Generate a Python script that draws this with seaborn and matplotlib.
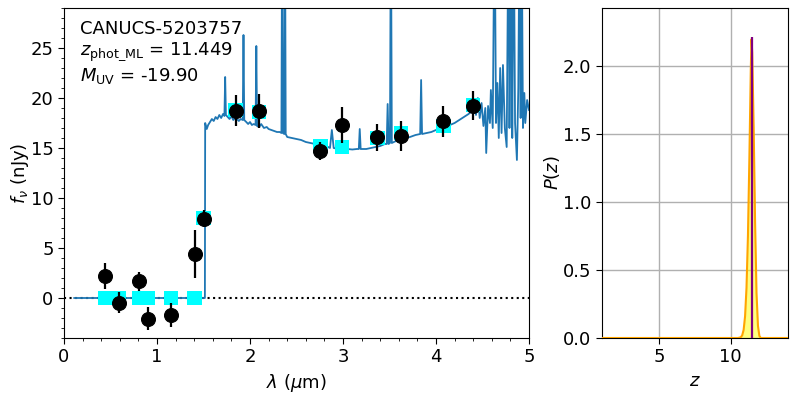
import numpy as np
import pandas as pd
import matplotlib
matplotlib.use("Agg")
import matplotlib.pyplot as plt
import seaborn as sns
from matplotlib.ticker import MultipleLocator

# ---------------- data ----------------
# photometry (observed)
phot_wave = [0.437, 0.593, 0.804, 0.904, 1.152, 1.404, 1.500, 1.845, 2.097,
             2.758, 2.988, 3.370, 3.620, 4.080, 4.400]
phot_flux = [2.25, -0.49, 1.67, -2.09, -1.70, 4.38, 7.95, 18.72, 18.69,
             14.75, 17.30, 16.07, 16.16, 17.70, 19.25]
phot_err = [1.30, 1.05, 0.97, 1.15, 1.18, 2.40, 0.85, 1.55, 1.70,
            0.90, 1.80, 1.35, 1.50, 1.55, 1.45]
# model photometry
model_flux = [0.0, 0.0, 0.0, 0.0, 0.0, 0.0, 8.0, 18.8, 18.6,
              15.2, 15.1, 16.0, 16.5, 17.2, 19.3]

# model spectrum
spec_wave = [0.11, 1.515, 1.518, 1.535, 1.55, 1.57, 1.59, 1.61, 1.63, 1.65, 1.67, 1.69,
             1.71, 1.725, 1.733, 1.741, 1.76, 1.78, 1.80, 1.82, 1.84, 1.86, 1.88, 1.90,
             1.922, 1.930, 1.938, 1.96, 1.98, 2.00, 2.02, 2.04, 2.060, 2.068, 2.076,
             2.10, 2.12, 2.15, 2.18, 2.20, 2.23, 2.26, 2.29, 2.32, 2.338, 2.346, 2.354,
             2.368, 2.376, 2.384, 2.40, 2.45, 2.50, 2.55, 2.60, 2.65, 2.70, 2.75, 2.80,
             2.84, 2.86, 2.88, 2.90, 2.95, 3.00, 3.05, 3.10, 3.15, 3.17, 3.18, 3.19,
             3.25, 3.30, 3.35, 3.40, 3.45, 3.47, 3.48, 3.49, 3.505, 3.515, 3.525, 3.57,
             3.62, 3.67, 3.72, 3.78, 3.83, 3.84, 3.85, 3.90, 3.95, 4.00, 4.05, 4.10,
             4.15, 4.20, 4.25, 4.30, 4.35, 4.40, 4.42, 4.43, 4.45, 4.47, 4.49, 4.51,
             4.53, 4.54, 4.56, 4.58, 4.59, 4.61, 4.63, 4.645, 4.66, 4.675, 4.69, 4.705,
             4.72, 4.74, 4.76, 4.78, 4.79, 4.81, 4.82, 4.835, 4.85, 4.87, 4.885, 4.90,
             4.91, 4.92, 4.935, 4.95, 4.96, 4.98, 5.00]
spec_flux = [0.0, 0.0, 17.5, 16.9, 17.3, 17.6, 17.9, 17.7, 18.1, 17.9, 18.3, 18.0,
             18.4, 18.2, 22.1, 18.3, 18.1, 17.9, 18.2, 17.8, 18.0, 17.9, 17.7, 17.9,
             17.8, 26.3, 17.8, 17.6, 17.4, 17.6, 17.3, 17.4, 17.3, 25.2, 17.2,
             17.1, 17.4, 17.0, 17.1, 16.9, 16.8, 16.7, 16.6, 16.6, 16.5, 40.0, 16.5,
             16.4, 40.0, 16.4, 16.1, 16.0, 15.9, 15.8, 15.6, 15.5, 15.4, 15.3, 15.2,
             15.1, 15.0, 16.8, 15.0, 14.9, 14.9, 14.9, 14.85, 14.9, 14.9, 16.9, 14.9,
             14.9, 15.0, 15.1, 15.2, 15.4, 15.4, 19.4, 15.4, 15.5, 40.0, 15.5, 15.7,
             15.9, 16.0, 16.1, 16.3, 16.4, 21.8, 16.4, 16.5, 16.6, 16.8, 17.0, 17.2,
             17.3, 17.5, 17.8, 18.1, 18.4, 18.8, 19.8, 18.3, 20.0, 18.0, 19.5, 17.2,
             19.0, 14.5, 19.2, 17.5, 20.8, 17.0, 40.0, 17.5, 21.5, 16.0, 23.0, 16.5,
             23.3, 17.0, 15.1, 40.0, 17.0, 40.0, 16.0, 40.0, 17.5, 13.8, 21.0, 40.0,
             18.0, 40.0, 17.0, 20.5, 17.5, 19.8, 18.8]

# P(z)
pz_z = [1.0, 10.5, 10.7, 10.8, 10.9, 11.0, 11.1, 11.2, 11.3, 11.4, 11.45, 11.5,
        11.6, 11.7, 11.8, 11.9, 12.0, 12.1, 14.0]
pz_p = [0.0, 0.0, 0.005, 0.02, 0.06, 0.16, 0.37, 0.75, 1.32, 1.98, 2.2, 2.1,
        1.55, 0.85, 0.33, 0.09, 0.015, 0.0, 0.0]
z_ml = 11.449
pz_max = 2.22

obj_name = "CANUCS-5203757"
muv = "-19.90"

# ---------------- figure ----------------
W, H = 797, 399
fig = plt.figure(figsize=(W / 100, H / 100), dpi=100)
ax = fig.add_axes([64 / W, 1 - 338 / H, 465 / W, 330 / H])
ax2 = fig.add_axes([602 / W, 1 - 338 / H, 186 / W, 330 / H])

fs = 13

spec_df = pd.DataFrame({"wave": spec_wave, "flux": spec_flux})
phot_df = pd.DataFrame({"wave": phot_wave, "flux": phot_flux, "err": phot_err,
                        "model": model_flux})

ax.axhline(0, color="black", ls=":", lw=1.5, zorder=1)
sns.lineplot(data=spec_df, x="wave", y="flux", ax=ax, color="#1f77b4", lw=1.3,
             sort=False, estimator=None, zorder=2)
sns.scatterplot(data=phot_df, x="wave", y="model", ax=ax, marker="s", s=105,
                color="cyan", edgecolor="none", zorder=3)
ax.errorbar(phot_df["wave"], phot_df["flux"], yerr=phot_df["err"], fmt="none",
            ecolor="black", elinewidth=1.6, zorder=4)
sns.scatterplot(data=phot_df, x="wave", y="flux", ax=ax, marker="o", s=100,
                color="black", edgecolor="black", zorder=5)

ax.set_xlim(0, 5)
ax.set_ylim(-4, 29)
ax.xaxis.set_major_locator(MultipleLocator(1))
ax.xaxis.set_minor_locator(MultipleLocator(0.2))
ax.yaxis.set_major_locator(MultipleLocator(5))
ax.yaxis.set_minor_locator(MultipleLocator(1))
ax.tick_params(which="major", labelsize=fs, length=4)
ax.tick_params(which="minor", length=2)
ax.set_xlabel(r"$\lambda$ ($\mu$m)", fontsize=fs)
ax.set_ylabel(r"$f_\nu$ (nJy)", fontsize=fs)
ax.yaxis.set_label_coords(-0.072, 0.5)

tfs = 13
ax.text(0.034, 0.921, obj_name, transform=ax.transAxes, fontsize=tfs, va="baseline")
ax.text(0.034, 0.858, r"$z_\mathrm{phot\_ML}$ = " + f"{z_ml:.3f}", transform=ax.transAxes,
        fontsize=tfs, va="baseline")
ax.text(0.034, 0.779, r"$M_\mathrm{UV}$ = " + muv, transform=ax.transAxes,
        fontsize=tfs, va="baseline")

# P(z) panel
pz_df = pd.DataFrame({"z": pz_z, "p": pz_p})
ax2.grid(True, color="#b0b0b0", lw=1, zorder=0)
ax2.set_axisbelow(True)
ax2.fill_between(pz_df["z"], 0, pz_df["p"], color="yellow", alpha=0.5, lw=0, zorder=2)
sns.lineplot(data=pz_df, x="z", y="p", ax=ax2, color="orange", lw=1.5,
             sort=False, estimator=None, zorder=3)
ax2.vlines(z_ml, 0, pz_max, color="purple", lw=1.6, zorder=4)
ax2.set_xlim(1, 14)
ax2.set_ylim(0, 2.43)
ax2.xaxis.set_major_locator(MultipleLocator(5))
ax2.yaxis.set_major_locator(MultipleLocator(0.5))
ax2.tick_params(labelsize=fs, length=4)
ax2.set_xlabel(r"$z$", fontsize=fs)
ax2.set_ylabel(r"$P(z)$", fontsize=fs)
ax2.yaxis.set_label_coords(-0.215, 0.5)

fig.savefig("out.png", dpi=100)
